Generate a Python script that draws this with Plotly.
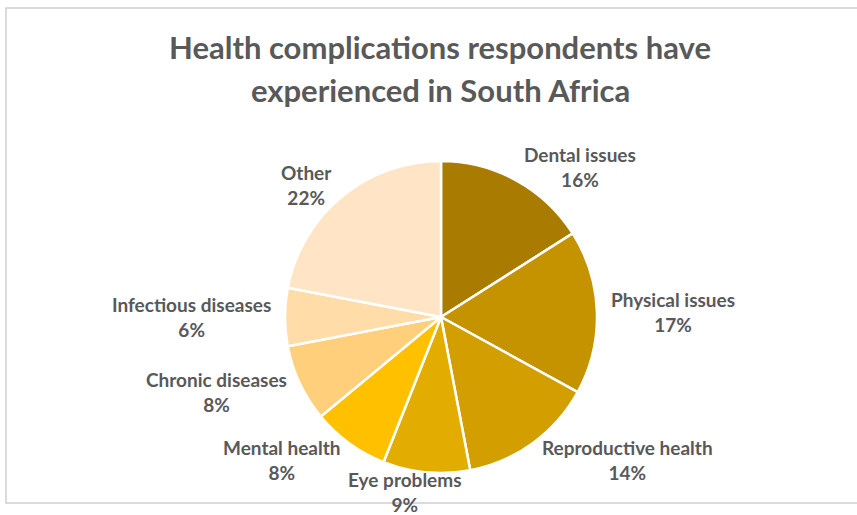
import math
import plotly.graph_objects as go

# Share of respondents by health complication (percent)
categories = [
    "Dental issues",
    "Physical issues",
    "Reproductive health",
    "Eye problems",
    "Mental health",
    "Chronic diseases",
    "Infectious diseases",
    "Other",
]
shares = [16, 17, 14, 9, 8, 8, 6, 22]
slice_colors = [
    "#A97B00", "#C69300", "#D29E00", "#E3AD00",
    "#FFC000", "#FFCF7C", "#FFDCA8", "#FFE5C6",
]
title_lines = [
    "Health complications respondents have",
    "experienced in South Africa",
]

W, H = 857, 515
CX, CY, R = 441, 317, 156          # pie centre and radius in pixels
TEXT = "#595959"
FONT = "Lato"

dom_x = [(CX - R) / W, (CX + R) / W]
dom_y = [(H - CY - R) / H, (H - CY + R) / H]

fig = go.Figure(
    go.Pie(
        labels=categories,
        values=shares,
        sort=False,
        direction="clockwise",
        rotation=0,
        marker=dict(colors=slice_colors, line=dict(color="white", width=2.5)),
        textinfo="none",
        hovertemplate="%{label}: %{percent}<extra></extra>",
        domain=dict(x=dom_x, y=dom_y),
        showlegend=False,
    )
)

# Outside labels, placed along each slice's mid-angle
total = sum(shares)
annotations = []
cum = 0
for name, v in zip(categories, shares):
    mid = (cum + v / 2) / total * 2 * math.pi
    cum += v
    c, s = math.cos(mid), math.sin(mid)
    rx = R * 1.08
    ry = R * (1.1 if c > 0 else 1.13)
    px = CX + rx * s
    py = CY - ry * c
    if abs(s) < 0.15:
        anchor, px = "center", px - 20
    else:
        anchor = "left" if s > 0 else "right"
    pct = round(v / total * 100)
    annotations.append(dict(
        x=px / W, y=1 - py / H, xref="paper", yref="paper",
        text=f"<b>{name}</b><br><b>{pct}%</b>",
        showarrow=False, xanchor=anchor, yanchor="middle", align="center",
        font=dict(family=FONT, size=19, color=TEXT),
    ))

# Two-line chart title
for line, ty in zip(title_lines, [47, 90]):
    annotations.append(dict(
        x=440 / W, y=1 - ty / H, xref="paper", yref="paper",
        text=f"<b>{line}</b>", showarrow=False,
        xanchor="center", yanchor="middle",
        font=dict(family=FONT, size=31, color=TEXT),
    ))

fig.update_layout(
    width=W, height=H,
    margin=dict(l=0, r=0, t=0, b=0),
    paper_bgcolor="white",
    plot_bgcolor="white",
    annotations=annotations,
    shapes=[dict(
        type="rect", xref="paper", yref="paper",
        x0=6 / W, x1=1.02, y0=1 - 503 / H, y1=1 - 8 / H,
        line=dict(color="#CFCFCF", width=1.5), layer="below",
    )],
)

fig.write_html("out.html")
